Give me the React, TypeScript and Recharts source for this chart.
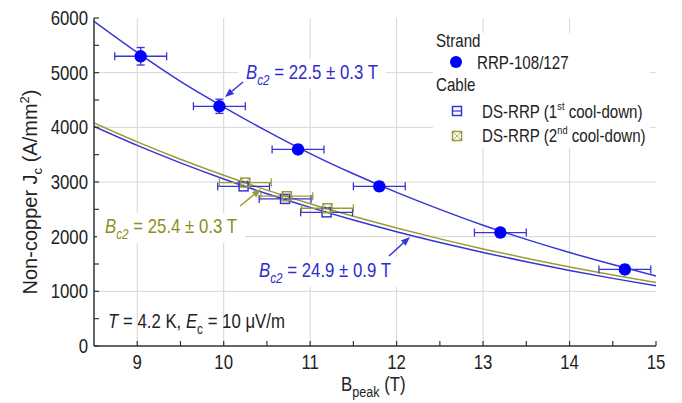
import React from "react";
import { ComposedChart, Line, Scatter, ErrorBar, XAxis, YAxis, ReferenceLine } from "recharts";

// Kramer fits sampled along the field axis (T) -> non-copper Jc (A/mm²)
const fitField = [8.5, 9, 9.5, 10, 10.5, 11, 11.5, 12, 12.5, 13, 13.5, 14, 14.5, 15];
const strandFitJc = [5940, 5370, 4840, 4370, 3930, 3520, 3150, 2810, 2500, 2210, 1950, 1710, 1490, 1280];
const cable1FitJc = [4016, 3669, 3350, 3056, 2785, 2536, 2305, 2091, 1893, 1710, 1540, 1383, 1237, 1102];
const cable2FitJc = [4079, 3733, 3415, 3122, 2852, 2603, 2372, 2159, 1960, 1776, 1605, 1446, 1299, 1163];

// RRP-108/127 strand
const strandB = [9.04, 9.95, 10.86, 11.8, 13.2, 14.64];
const strandJc = [5300, 4385, 3595, 2920, 2075, 1400];
const strandBErr = [0.3, 0.3, 0.3, 0.3, 0.3, 0.3];
const strandJcErr = [160, 130, 80, 80, 80, 80];

// DS-RRP cable, 1st and 2nd cool-down
const cable1B = [10.23, 10.71, 11.19];
const cable1Jc = [2920, 2690, 2445];
const cable2B = [10.25, 10.73, 11.2];
const cable2Jc = [2990, 2740, 2520];
const cableBErr = [0.3, 0.3, 0.3];

const xTicks = [9, 9.5, 10, 10.5, 11, 11.5, 12, 12.5, 13, 13.5, 14, 14.5, 15];
const yTicks = [0, 500, 1000, 1500, 2000, 2500, 3000, 3500, 4000, 4500, 5000, 5500, 6000];
const xGrid = [9, 10, 11, 12, 13, 14];
const yGrid = [1000, 2000, 3000, 4000, 5000];

const W = 682;
const H = 403;
const SANS = "'Liberation Sans', Arial, sans-serif";
const SQUEEZE = 0.84; // condensed look for horizontal text
const INK = "#222";
const FRAME = "#333";
const BLUE = "#3535d6";
const BLUE_DOT = "#0000ff";
const BLUE_TEXT = "#2c2cd0";
const OLIVE = "#9c9c34";
const OLIVE_TEXT = "#8e8e1c";
const GRID = "#d6d6d6";

const fitRows = (jc: number[]) => fitField.map((b, i) => ({ b, jc: jc[i] }));
const strandRows = strandB.map((b, i) => ({ b, jc: strandJc[i], bErr: strandBErr[i], jcErr: strandJcErr[i] }));
const cable1Rows = cable1B.map((b, i) => ({ b, jc: cable1Jc[i], bErr: cableBErr[i] }));
const cable2Rows = cable2B.map((b, i) => ({ b, jc: cable2Jc[i], bErr: cableBErr[i] }));

const TICK_LEN = 5;

// text squeezed horizontally around its anchor point
function SText({ x, y, children, size = 20, ...rest }: any) {
  return (
    <text
      transform={`translate(${x},${y}) scale(${SQUEEZE},1)`}
      x={0}
      y={0}
      fontFamily={SANS}
      fontSize={size}
      {...rest}
    >
      {children}
    </text>
  );
}

function BottomTick({ x, y, payload }: any) {
  const v = payload.value as number;
  return (
    <g>
      <line x1={x} y1={y} x2={x} y2={y - TICK_LEN} stroke={FRAME} strokeWidth={1.2} />
      {Number.isInteger(v) && (
        <SText x={x} y={y + 23} textAnchor="middle" fill={INK}>
          {v}
        </SText>
      )}
    </g>
  );
}

function TopTick({ x, y }: any) {
  return <line x1={x} y1={y} x2={x} y2={y + TICK_LEN} stroke={FRAME} strokeWidth={1.2} />;
}

function LeftTick({ x, y, payload }: any) {
  const v = payload.value as number;
  return (
    <g>
      <line x1={x} y1={y} x2={x + TICK_LEN} y2={y} stroke={FRAME} strokeWidth={1.2} />
      {v % 1000 === 0 && (
        <SText x={x - 6} y={y + 7} textAnchor="end" fill={INK}>
          {v}
        </SText>
      )}
    </g>
  );
}

function RightTick({ x, y }: any) {
  return <line x1={x} y1={y} x2={x - TICK_LEN} y2={y} stroke={FRAME} strokeWidth={1.2} />;
}

const StrandDot = ({ cx, cy }: any) => <circle cx={cx} cy={cy} r={6.2} fill={BLUE_DOT} />;

const Cable1Mark = ({ cx, cy }: any) => (
  <rect x={cx - 4.5} y={cy - 4.5} width={9} height={9} fill="none" stroke={BLUE} strokeWidth={1.5} />
);

const Cable2Mark = ({ cx, cy }: any) => (
  <g stroke={OLIVE} strokeWidth={1.5} fill="none">
    <rect x={cx - 4.5} y={cy - 4.5} width={9} height={9} />
    <path d={`M${cx - 4.5},${cy - 4.5}L${cx + 4.5},${cy + 4.5}M${cx + 4.5},${cy - 4.5}L${cx - 4.5},${cy + 4.5}`} strokeWidth={0.8} />
  </g>
);

function Arrow({ x1, y1, x2, y2, color }: { x1: number; y1: number; x2: number; y2: number; color: string }) {
  const a = Math.atan2(y2 - y1, x2 - x1);
  const len = 9;
  const half = 3.5;
  const bx = x2 - len * Math.cos(a);
  const by = y2 - len * Math.sin(a);
  const px = -Math.sin(a) * half;
  const py = Math.cos(a) * half;
  return (
    <g>
      <line x1={x1} y1={y1} x2={bx} y2={by} stroke={color} strokeWidth={1.5} />
      <polygon points={`${x2},${y2} ${bx + px},${by + py} ${bx - px},${by - py}`} fill={color} />
    </g>
  );
}

function Bc2Label({ x, y, value, color }: { x: number; y: number; value: string; color: string }) {
  return (
    <g>
      <rect x={x - 8} y={y - 20} width={148} height={30} fill="#fff" />
      <SText x={x} y={y} fill={color}>
        <tspan fontStyle="italic">B</tspan>
        <tspan fontStyle="italic" fontSize={14} dy={6}>c2</tspan>
        <tspan dy={-6}>{` = ${value} T`}</tspan>
      </SText>
    </g>
  );
}

function Overlay() {
  return (
    <svg width={W} height={H} style={{ position: "absolute", left: 0, top: 0, pointerEvents: "none" }}>
      {/* axis titles */}
      <text transform="translate(37,192) rotate(-90)" textAnchor="middle" fontFamily={SANS} fontSize={20} fill={INK}>
        Non-copper J<tspan fontSize={13} dy={5}>c</tspan>
        <tspan dy={-5}> (A/mm</tspan>
        <tspan fontSize={13} dy={-8}>2</tspan>
        <tspan dy={8}>)</tspan>
      </text>
      <SText x={341} y={391} fill={INK}>
        B<tspan fontSize={15} dy={6}>peak</tspan>
        <tspan dy={-6}> (T)</tspan>
      </SText>

      {/* legend */}
      <rect x={433} y={33} width={217} height={115} fill="#fff" />
      <g fill={INK}>
        <SText x={436} y={47} size={18}>Strand</SText>
        <circle cx={456} cy={62} r={6} fill={BLUE_DOT} />
        <SText x={477} y={69} size={18}>RRP-108/127</SText>
        <SText x={436} y={91} size={18}>Cable</SText>
        <rect x={452.5} y={106.5} width={9} height={9} fill="none" stroke={BLUE} strokeWidth={1.5} />
        <line x1={452.5} y1={111} x2={461.5} y2={111} stroke={BLUE} strokeWidth={1.2} />
        <SText x={482} y={118} size={18}>
          DS-RRP (1<tspan fontSize={11} dy={-8}>st</tspan>
          <tspan dy={8}> cool-down)</tspan>
        </SText>
        <g stroke={OLIVE} fill="none">
          <rect x={452.5} y={131.5} width={9} height={9} strokeWidth={1.5} />
          <path d="M452.5,131.5L461.5,140.5M461.5,131.5L452.5,140.5" strokeWidth={0.8} />
        </g>
        <SText x={482} y={142} size={18}>
          DS-RRP (2<tspan fontSize={11} dy={-8}>nd</tspan>
          <tspan dy={8}> cool-down)</tspan>
        </SText>
      </g>

      {/* fit annotations */}
      <Bc2Label x={246} y={79} value="22.5 ± 0.3" color={BLUE_TEXT} />
      <Arrow x1={243} y1={82} x2={225} y2={97} color={BLUE} />
      <Bc2Label x={105} y={233} value="25.4 ± 0.3" color={OLIVE_TEXT} />
      <Arrow x1={240} y1={206} x2={261} y2={189} color={OLIVE} />
      <Bc2Label x={259} y={277} value="24.9 ± 0.9" color={BLUE_TEXT} />
      <Arrow x1={389} y1={256} x2={410} y2={237} color={BLUE} />

      <SText x={108} y={328} fill={INK}>
        <tspan fontStyle="italic">T</tspan>
        <tspan> = 4.2 K, </tspan>
        <tspan fontStyle="italic">E</tspan>
        <tspan fontSize={14} dy={6}>c</tspan>
        <tspan dy={-6}> = 10 μV/m</tspan>
      </SText>
    </svg>
  );
}

export default function App() {
  const axisLine = { stroke: FRAME, strokeWidth: 1.5 };
  return (
    <div style={{ position: "absolute", left: 0, top: 0, width: W, height: H, background: "#fff" }}>
      <ComposedChart width={W} height={H} margin={{ top: 18, right: 26, bottom: 0, left: 0 }}>
        <XAxis
          type="number"
          dataKey="b"
          domain={[8.5, 15]}
          ticks={xTicks}
          interval={0}
          allowDataOverflow
          height={57}
          tickSize={0}
          tickMargin={0}
          axisLine={axisLine}
          tick={BottomTick}
        />
        <XAxis
          xAxisId="top"
          orientation="top"
          type="number"
          dataKey="b"
          domain={[8.5, 15]}
          ticks={xTicks}
          interval={0}
          allowDataOverflow
          height={0}
          tickSize={0}
          tickMargin={0}
          axisLine={axisLine}
          tick={TopTick}
        />
        <YAxis
          type="number"
          dataKey="jc"
          domain={[0, 6000]}
          ticks={yTicks}
          interval={0}
          allowDataOverflow
          width={94}
          tickSize={0}
          tickMargin={0}
          axisLine={axisLine}
          tick={LeftTick}
        />
        <YAxis
          yAxisId="right"
          orientation="right"
          type="number"
          dataKey="jc"
          domain={[0, 6000]}
          ticks={yTicks}
          interval={0}
          allowDataOverflow
          width={0}
          tickSize={0}
          tickMargin={0}
          axisLine={axisLine}
          tick={RightTick}
        />

        {xGrid.map((v) => (
          <ReferenceLine key={`gx${v}`} x={v} stroke={GRID} strokeWidth={1} />
        ))}
        {yGrid.map((v) => (
          <ReferenceLine key={`gy${v}`} y={v} stroke={GRID} strokeWidth={1} />
        ))}

        <Line data={fitRows(strandFitJc)} dataKey="jc" type="monotone" stroke={BLUE} strokeWidth={1.5} dot={false} activeDot={false} isAnimationActive={false} />
        <Line data={fitRows(cable1FitJc)} dataKey="jc" type="monotone" stroke={BLUE} strokeWidth={1.5} dot={false} activeDot={false} isAnimationActive={false} />
        <Line data={fitRows(cable2FitJc)} dataKey="jc" type="monotone" stroke={OLIVE} strokeWidth={1.5} dot={false} activeDot={false} isAnimationActive={false} />

        <Scatter data={cable1Rows} dataKey="jc" shape={Cable1Mark} isAnimationActive={false}>
          <ErrorBar dataKey="bErr" direction="x" width={4} stroke={BLUE} strokeWidth={1.3} isAnimationActive={false} />
        </Scatter>
        <Scatter data={cable2Rows} dataKey="jc" shape={Cable2Mark} isAnimationActive={false}>
          <ErrorBar dataKey="bErr" direction="x" width={4} stroke={OLIVE} strokeWidth={1.3} isAnimationActive={false} />
        </Scatter>
        <Scatter data={strandRows} dataKey="jc" shape={StrandDot} isAnimationActive={false}>
          <ErrorBar dataKey="bErr" direction="x" width={4} stroke={BLUE} strokeWidth={1.3} isAnimationActive={false} />
          <ErrorBar dataKey="jcErr" direction="y" width={4} stroke={BLUE} strokeWidth={1.3} isAnimationActive={false} />
        </Scatter>
      </ComposedChart>
      <Overlay />
    </div>
  );
}
